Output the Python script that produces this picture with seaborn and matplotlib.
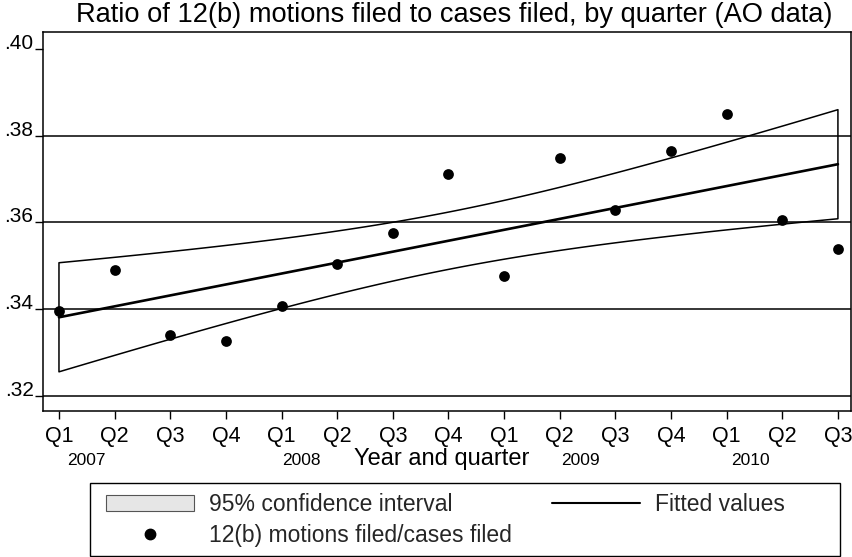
import numpy as np
import pandas as pd
import matplotlib
matplotlib.use("Agg")
import matplotlib.pyplot as plt
import matplotlib.transforms as mtransforms
from matplotlib.patches import Patch, Rectangle
from matplotlib.lines import Line2D
import seaborn as sns

# values
quarters = ["Q1", "Q2", "Q3", "Q4", "Q1", "Q2", "Q3", "Q4",
            "Q1", "Q2", "Q3", "Q4", "Q1", "Q2", "Q3"]
ratio = [0.3396, 0.3490, 0.3341, 0.3327, 0.3407, 0.3504, 0.3576, 0.3712,
         0.3476, 0.3749, 0.3629, 0.3765, 0.3850, 0.3606, 0.3540]
year_labels = ["2007", "2008", "2009", "2010"]
year_pos = [0.5, 4.35, 9.38, 12.42]
y_ticks = [0.32, 0.34, 0.36, 0.38, 0.40]
y_ticklabels = [".32", ".34", ".36", ".38", ".40"]
grid_vals = [0.32, 0.34, 0.36, 0.38]

df = pd.DataFrame({"t": np.arange(len(ratio)), "ratio": ratio})

# linear fit with 95% CI of the mean (like stata lfitci)
b, a = np.polyfit(df.t, df.ratio, 1)
n = len(df)
resid = df.ratio - (a + b * df.t)
s = np.sqrt((resid ** 2).sum() / (n - 2))
tcrit = 2.1604  # t(0.975, 13)
xs = np.linspace(0, n - 1, 200)
sxx = ((df.t - df.t.mean()) ** 2).sum()
se = s * np.sqrt(1 / n + (xs - df.t.mean()) ** 2 / sxx)
fit_df = pd.DataFrame({"t": xs, "fit": a + b * xs})

sns.set_theme(style="white")
plt.rcParams["font.family"] = ["Liberation Sans", "DejaVu Sans"]

W, H = 852, 557
fig = plt.figure(figsize=(W / 100, H / 100), dpi=100)
ax = fig.add_axes([0.0508, 0.2621, 0.9477, 0.6804])

for g in grid_vals:
    ax.axhline(g, color="black", lw=1.1, zorder=1)

ax.fill_between(xs, a + b * xs - tcrit * se, a + b * xs + tcrit * se,
                facecolor="none", edgecolor="black", lw=1.1, zorder=2)
sns.lineplot(data=fit_df, x="t", y="fit", color="black", lw=1.9, ax=ax, zorder=3)
sns.scatterplot(data=df, x="t", y="ratio", color="black", s=60,
                edgecolor="black", linewidth=0, ax=ax, zorder=4)

ax.set_xlim(-0.282, 14.23)
ax.set_ylim(0.31654, 0.4039)
ax.set_xticks(df.t)
ax.set_xticklabels(quarters)
ax.set_yticks(y_ticks)
ax.set_yticklabels(y_ticklabels)
for lab in ax.get_yticklabels():
    lab.set_verticalalignment("baseline")
ax.tick_params(axis="x", direction="out", length=6, width=1, pad=5,
               labelsize=15.5, colors="black", bottom=True)
ax.tick_params(axis="y", direction="out", length=6, width=1, pad=1,
               labelsize=15, colors="black", left=True)
for sp in ax.spines.values():
    sp.set_color("black")
    sp.set_linewidth(1.1)
ax.set_xlabel("")
ax.set_ylabel("")

trans = mtransforms.blended_transform_factory(ax.transData, ax.transAxes)
for yl, xp in zip(year_labels, year_pos):
    ax.text(xp, -0.143, yl, transform=trans, ha="center", va="baseline",
            fontsize=12.5, color="black")
ax.text(6.87, -0.143, "Year and quarter", transform=trans, ha="center",
        va="baseline", fontsize=17, color="black")

ax.set_title("Ratio of 12(b) motions filed to cases filed, by quarter (AO data)",
             fontsize=19.6, color="black", pad=7, x=0.509)

# legend: frame drawn separately so its box matches the original
handles = [Patch(facecolor="#e6e6e6", edgecolor="#555555", lw=0.8),
           Line2D([], [], marker="o", color="black", ls="none", ms=7.5),
           Line2D([], [], color="black", lw=1.5)]
labels = ["95% confidence interval", "12(b) motions filed/cases filed",
          "Fitted values"]
leg = fig.legend(handles, labels, loc="upper left", ncol=2,
                 bbox_to_anchor=(106 / W, 1 - 493 / H), fontsize=16.5,
                 frameon=False, handlelength=3.85, handletextpad=0.65,
                 columnspacing=1.75, borderpad=0, borderaxespad=0,
                 labelspacing=0.35)
fig.patches.append(Rectangle((90 / W, 0.002), 750 / W, (H - 483) / H - 0.002,
                             transform=fig.transFigure, fill=False,
                             edgecolor="black", lw=1.0))

fig.savefig("out.png", dpi=100)
